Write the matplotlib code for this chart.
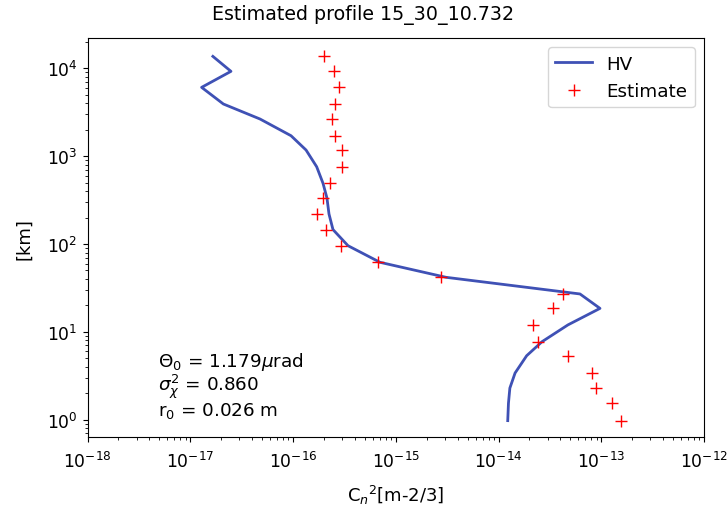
import matplotlib
matplotlib.use("Agg")
import matplotlib.pyplot as plt
import numpy as np

plt.rcParams['font.size'] = 13
plt.rcParams['xtick.labelsize'] = 12.3
plt.rcParams['ytick.labelsize'] = 12.3

# altitudes [km], bottom to top
heights = [0.975, 1.54, 2.29, 3.40, 5.35, 7.72, 12.0, 18.5, 27.0, 41.8, 61.9, 95.7,
           146, 220, 334, 491, 758, 1175, 1710, 2650, 3930, 6080, 9250, 13700]

# Hufnagel-Valley reference profile
hv = [1.23e-14, 1.25e-14, 1.29e-14, 1.45e-14, 1.88e-14, 2.65e-14, 4.74e-14, 9.72e-14,
      6.21e-14, 3.08e-15, 7.03e-16, 3.43e-16, 2.45e-16, 2.24e-16, 2.14e-16, 1.96e-16,
      1.70e-16, 1.34e-16, 9.57e-17, 4.78e-17, 2.10e-17, 1.29e-17, 2.49e-17, 1.66e-17]

# estimated Cn2
est = [1.55e-13, 1.27e-13, 8.83e-14, 8.07e-14, 4.74e-14, 2.44e-14, 2.18e-14, 3.41e-14,
       4.21e-14, 2.74e-15, 6.67e-16, 2.91e-16, 2.08e-16, 1.70e-16, 1.95e-16, 2.29e-16,
       2.98e-16, 2.98e-16, 2.58e-16, 2.38e-16, 2.56e-16, 2.82e-16, 2.51e-16, 2.02e-16]

theta0 = 1.179
sigma2 = 0.860
r0 = 0.026
name = "15_30_10.732"

fig = plt.figure(figsize=(7.27, 5.10), dpi=100)
ax = fig.add_axes([87.5/727, (510-438.3)/510, (704-87.5)/727, (438.3-39.3)/510])

ax.plot(hv, heights, color='#3f51b5', lw=2, label='HV')
ax.plot(est, heights, '+', color='red', ms=8, label='Estimate')
ax.set_xscale('log')
ax.set_yscale('log')
ax.set_xlim(1e-18, 1e-12)
ax.set_ylim(0.63, 2.2e4)
ax.tick_params(axis='x', which='major', pad=6)
fig.suptitle('Estimated profile ' + name, fontsize=13.7, x=0.5, y=1 - 15/510, va='center')
ax.set_xlabel('C$_n$$^2$[m-2/3]', labelpad=9)
ax.set_ylabel('[km]', labelpad=10)
ax.legend(loc='upper right', fontsize=13.2)

txt = ('$\\Theta_0$ = %.3f$\\mu$rad\n$\\sigma_\\chi^2$ = %.3f\nr$_0$ = %.3f m'
       % (theta0, sigma2, r0))
ax.text(0.114, 0.043, txt, transform=ax.transAxes, va='bottom', ha='left',
        fontsize=13.2, linespacing=1.0)

fig.savefig('out.png', dpi=100)
